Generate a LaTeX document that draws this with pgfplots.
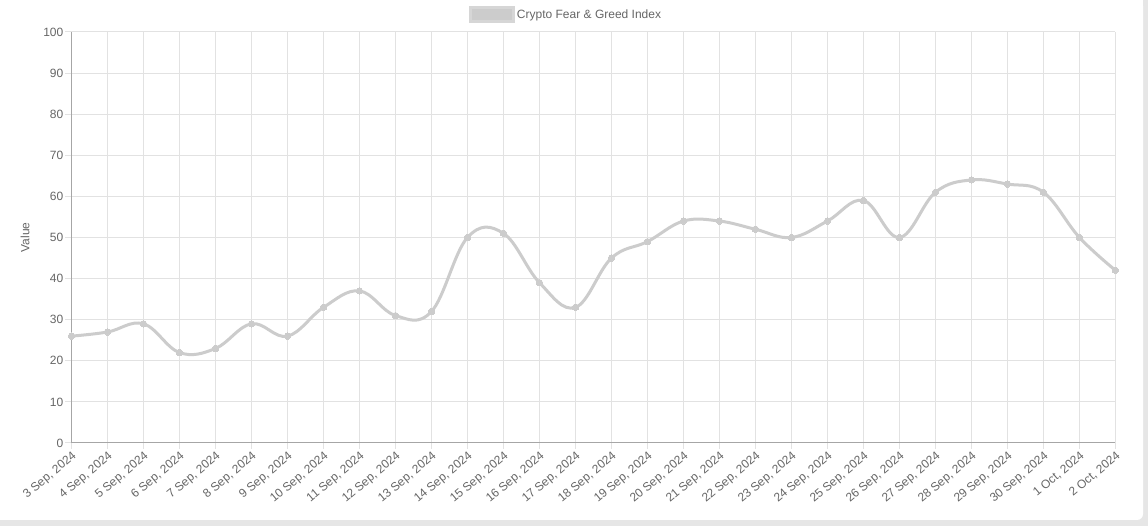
\documentclass[border=0pt]{standalone}
\usepackage{fontspec}
\setmainfont{Liberation Sans}
\usepackage{pgfplots}
\pgfplotsset{compat=1.18}
\definecolor{txt}{HTML}{666666}
\definecolor{gridc}{HTML}{E2E2E2}
\definecolor{axc}{HTML}{A6A6A6}
\definecolor{linec}{HTML}{CCCCCC}
\definecolor{bgc}{HTML}{E6E6E6}
\begin{document}
\begin{tikzpicture}
\fill[bgc] (0pt,0pt) rectangle (1148pt,526pt);
\fill[white,rounded corners=6pt] (0pt,6pt) rectangle (1143pt,526pt);
\fill[white] (0pt,6pt) rectangle (30pt,526pt);
\fill[white] (0pt,300pt) rectangle (1143pt,526pt);
\begin{axis}[
  at={(71.5pt,83pt)}, anchor=south west, scale only axis,
  width=1044pt, height=411pt,
  xmin=0, xmax=29, ymin=0, ymax=100,
  clip=false,
  xtick={0,...,29},
  xticklabels={{3 Sep, 2024},{4 Sep, 2024},{5 Sep, 2024},{6 Sep, 2024},{7 Sep, 2024},{8 Sep, 2024},{9 Sep, 2024},{10 Sep, 2024},{11 Sep, 2024},{12 Sep, 2024},{13 Sep, 2024},{14 Sep, 2024},{15 Sep, 2024},{16 Sep, 2024},{17 Sep, 2024},{18 Sep, 2024},{19 Sep, 2024},{20 Sep, 2024},{21 Sep, 2024},{22 Sep, 2024},{23 Sep, 2024},{24 Sep, 2024},{25 Sep, 2024},{26 Sep, 2024},{27 Sep, 2024},{28 Sep, 2024},{29 Sep, 2024},{30 Sep, 2024},{1 Oct, 2024},{2 Oct, 2024}},
  ytick={0,10,...,100},
  grid=major, grid style={gridc, line width=1pt},
  axis x line*=bottom, axis y line*=left,
  axis line style={axc, line width=1pt, -},
  tick align=outside, major tick length=6pt,
  tick style={gridc, line width=1pt},
  tick label style={font=\fontsize{12}{14}\selectfont, text=txt},
  /pgf/number format/assume math mode=true,
  xticklabel style={rotate=40, anchor=north east, inner sep=1pt},
  yticklabel style={inner sep=2pt},
  ylabel={Value},
  ylabel style={at={(axis description cs:-0.0445,0.5)}, anchor=center, font=\fontsize{12}{14}\selectfont, text=txt},
  legend style={at={(axis description cs:0.4737,1.0633)}, anchor=north, draw=none, fill=none, inner sep=0pt, font=\fontsize{12}{14}\selectfont, text=txt, /tikz/every even column/.append style={column sep=3pt}},
  legend image code/.code={\fill[linec, draw=linec!80] (0pt,-7pt) rectangle (43pt,7pt);},
]
\addplot[linec, line width=3pt, smooth, tension=0.65, mark=*, mark size=3.2pt, mark options={fill=linec, draw=linec, line width=0pt}] coordinates {
(0,26) (1,27) (2,29) (3,22) (4,23) (5,29) (6,26) (7,33) (8,37) (9,31)
(10,32) (11,50) (12,51) (13,39) (14,33) (15,45) (16,49) (17,54) (18,54) (19,52)
(20,50) (21,54) (22,59) (23,50) (24,61) (25,64) (26,63) (27,61) (28,50) (29,42)
};
\addlegendentry{Crypto Fear \& Greed Index}
\end{axis}
\pgfresetboundingbox
\useasboundingbox (0pt,0pt) rectangle (1148pt,526pt);
\end{tikzpicture}
\end{document}
